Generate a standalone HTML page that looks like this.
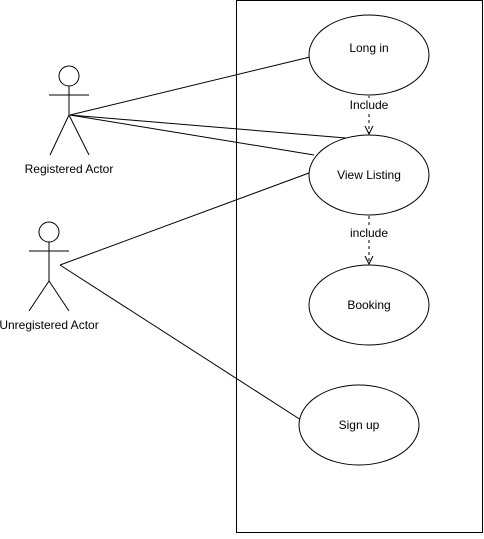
<!DOCTYPE html>
<html><head><style>body{margin:0;background:#fff}</style></head><body>
<svg width="484" height="534" xmlns="http://www.w3.org/2000/svg" font-family="Liberation Sans, sans-serif" font-size="12">
<rect x="236.5" y="0.5" width="246" height="532" fill="#fff" stroke="#000"/>
<g stroke="#000" fill="none">
<circle cx="69" cy="76" r="10" fill="#fff"/>
<line x1="49" y1="95" x2="89" y2="95"/>
<line x1="69" y1="86" x2="69" y2="115"/>
<line x1="69" y1="115" x2="50" y2="155"/>
<line x1="69" y1="115" x2="89" y2="155"/>
<circle cx="49" cy="232" r="10" fill="#fff"/>
<line x1="29" y1="251" x2="69" y2="251"/>
<line x1="49" y1="242" x2="49" y2="281"/>
<line x1="49" y1="281" x2="29" y2="311"/>
<line x1="49" y1="281" x2="69" y2="311"/>
<line x1="70" y1="115" x2="310" y2="57"/>
<line x1="70" y1="115" x2="346" y2="138"/>
<line x1="70" y1="115" x2="314" y2="155"/>
<line x1="60" y1="265" x2="309" y2="173"/>
<line x1="60" y1="265" x2="301" y2="420"/>
<line x1="369" y1="96" x2="369" y2="134" stroke-dasharray="3,3"/>
<polyline points="365,126 369,134 373,126"/>
<line x1="369" y1="216" x2="369" y2="264" stroke-dasharray="3,3"/>
<polyline points="365,256 369,264 373,256"/>
</g>
<g stroke="#000" fill="#fff">
<ellipse cx="369" cy="55" rx="60" ry="40"/>
<ellipse cx="369" cy="175" rx="60" ry="40"/>
<ellipse cx="369" cy="305" rx="60" ry="40"/>
<ellipse cx="359" cy="425" rx="60" ry="40"/>
</g>
<rect x="348" y="98" width="42" height="14" fill="#fff"/>
<rect x="348" y="226" width="42" height="14" fill="#fff"/>
<g text-anchor="middle" fill="#000">
<text x="369" y="52">Long in</text>
<text x="369" y="179">View Listing</text>
<text x="369" y="309">Booking</text>
<text x="359" y="429">Sign up</text>
<text x="369" y="109">Include</text>
<text x="369" y="237">include</text>
<text x="69" y="173">Registered Actor</text>
<text x="49" y="329">Unregistered Actor</text>
</g>
</svg>
</body></html>
